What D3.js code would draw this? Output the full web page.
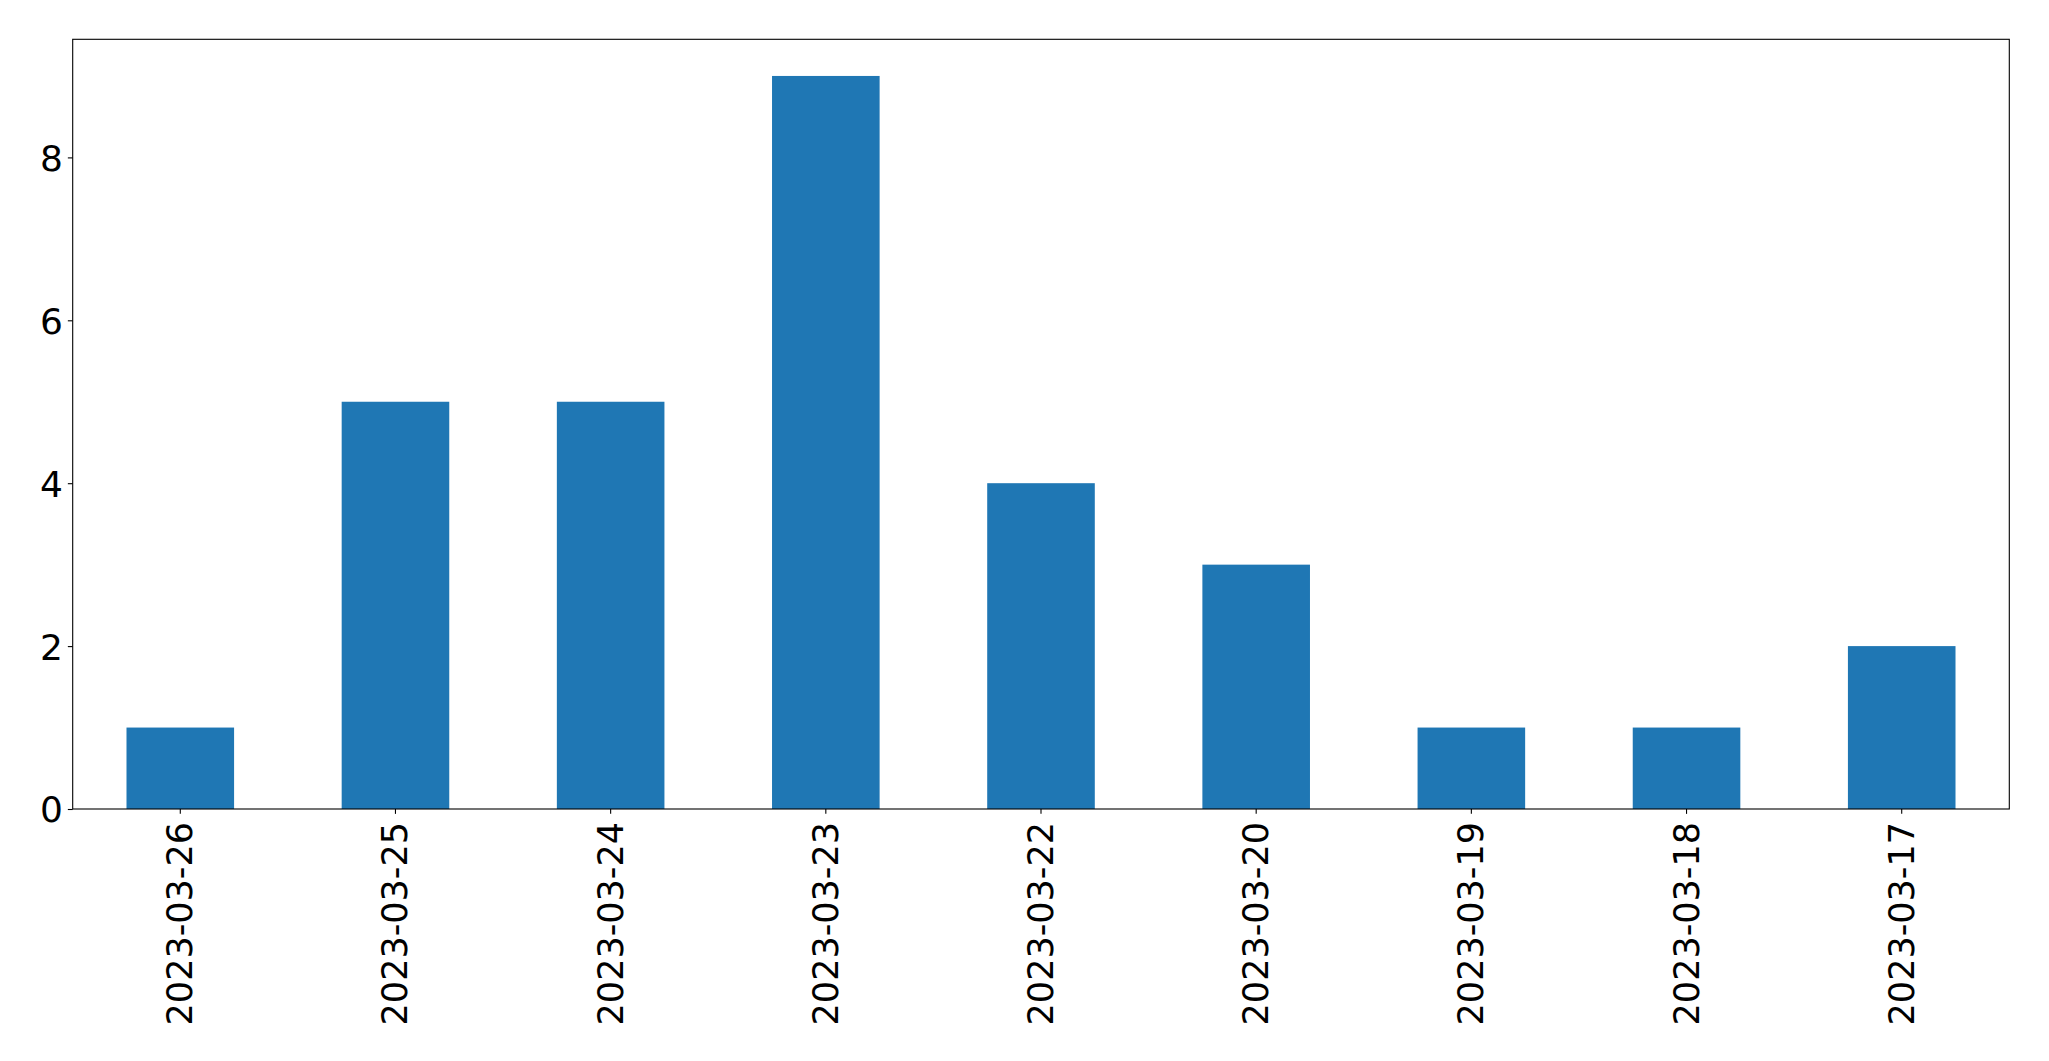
<!DOCTYPE html>
<html>
<head>
<meta charset="utf-8">
<script src="https://cdn.jsdelivr.net/npm/d3@7"></script>
<style>
  html, body { margin: 0; padding: 0; background: #fff; }
  svg text { font-family: "DejaVu Sans", sans-serif; fill: #000; }
</style>
</head>
<body>
<svg id="chart" width="2049" height="1061"></svg>
<script>
const categories = ["2023-03-26","2023-03-25","2023-03-24","2023-03-23","2023-03-22","2023-03-20","2023-03-19","2023-03-18","2023-03-17"];
const values = [1, 5, 5, 9, 4, 3, 1, 1, 2];
const yTicks = [0, 2, 4, 6, 8];

const W = 2049, H = 1061;
const m = { left: 72.7, right: 2049 - 2009.3, top: 39.3, bottom: 1061 - 809 };
const svg = d3.select("#chart");

const x = d3.scaleBand()
  .domain(categories)
  .range([m.left, W - m.right])
  .paddingInner(0.5)
  .paddingOuter(0.25);

const y = d3.scaleLinear()
  .domain([0, d3.max(values) * 1.05])
  .range([H - m.bottom, m.top]);

svg.append("g")
  .selectAll("rect")
  .data(values)
  .join("rect")
  .attr("x", (d, i) => x(categories[i]))
  .attr("y", d => y(d))
  .attr("width", x.bandwidth())
  .attr("height", d => y(0) - y(d))
  .attr("fill", "#1f77b4");

const fs = 35;
// y axis
const yAxis = svg.append("g")
  .attr("transform", `translate(${m.left},0)`)
  .call(d3.axisLeft(y).tickValues(yTicks).tickSize(4.86).tickPadding(4.86).tickFormat(d3.format("d")));
yAxis.select(".domain").remove();
yAxis.selectAll("line").attr("stroke", "#000").attr("stroke-width", 1.1);
yAxis.selectAll("text").style("font-size", "36px").attr("dy", "0.36em");

// x axis
const xAxis = svg.append("g")
  .attr("transform", `translate(0,${H - m.bottom})`)
  .call(d3.axisBottom(x).tickSize(4.86).tickPadding(0));
xAxis.select(".domain").remove();
xAxis.selectAll("line").attr("stroke", "#000").attr("stroke-width", 1.1);
xAxis.selectAll("text")
  .style("font-size", fs + "px")
  .attr("y", 0).attr("dy", null)
  .attr("text-anchor", "end")
  .attr("dominant-baseline", "central")
  .attr("transform", "translate(0,13) rotate(-90)");

// frame
svg.append("rect")
  .attr("x", m.left).attr("y", m.top)
  .attr("width", W - m.right - m.left)
  .attr("height", H - m.bottom - m.top)
  .attr("fill", "none").attr("stroke", "#000").attr("stroke-width", 1.1);
</script>
</body>
</html>
